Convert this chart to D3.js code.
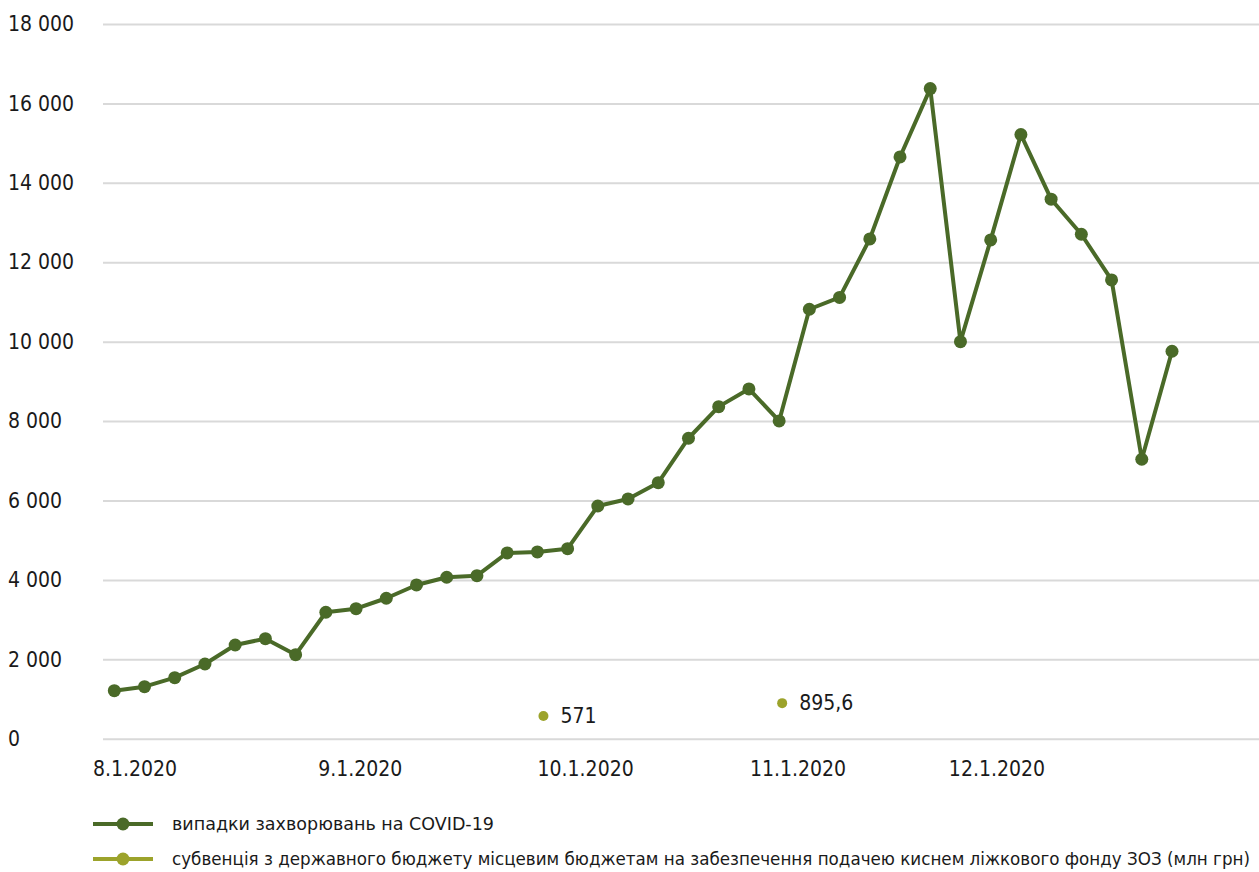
<!DOCTYPE html>
<html>
<head>
<meta charset="utf-8">
<script src="https://cdn.jsdelivr.net/npm/d3@7"></script>
<style>
  body { margin: 0; background: #fff; }
  text { font-family: "Liberation Sans Narrow", "DejaVu Sans Condensed", "Noto Sans", sans-serif; fill: #1a1a1a; }
</style>
</head>
<body>
<svg></svg>
<script>
// weekly COVID-19 cases
var cases = [1209, 1310, 1537, 1882, 2360, 2519, 2116, 3184, 3275, 3537, 3872, 4066,
             4106, 4678, 4703, 4786, 5861, 6038, 6448, 7567, 8363, 8809, 8003, 10816,
             11113, 12587, 14652, 16373, 10000, 12562, 15214, 13587, 12705, 11554, 7038, 9758];

// subvention points (position measured in weeks from the first point)
var subsidyWeek = [14.2, 22.1];
var subsidy = [571, 895.6];

// month labels, placed at their week position
var monthLabels = ['8.1.2020', '9.1.2020', '10.1.2020', '11.1.2020', '12.1.2020'];
var monthWeek = [0.67, 8.12, 15.58, 22.61, 29.19];

var yTicks = [0, 2000, 4000, 6000, 8000, 10000, 12000, 14000, 16000, 18000];

var seriesNames = ['випадки захворювань на COVID-19',
  'субвенція з державного бюджету місцевим бюджетам на забезпечення подачею киснем ліжкового фонду ЗОЗ (млн грн)'];
var colors = ['#4a6a28', '#9ca32b'];

const iWidth = 1259, iHeight = 872;
const plot = {left: 103, right: 1259, top: 24, bottom: 738.7};
const fontSize = 21;
const legendFontSize = 18.4;
const legendTextWidth = [322, 1078];

const uaLocale = d3.formatLocale({decimal: ',', thousands: ' ', grouping: [3], currency: ['', '']});
const fmtTick = uaLocale.format(',d');
const fmtVal = uaLocale.format(',~r');

var canvas = d3.select('svg')
               .attr('width', iWidth)
               .attr('height', iHeight);

const xScale = d3.scaleLinear()
                 .domain([0, cases.length - 1])
                 .range([114.3, 1172]);

const yScale = d3.scaleLinear()
                 .domain([0, 18000])
                 .range([plot.bottom, plot.top]);

// y axis + gridlines
var yAxis = canvas.append('g')
    .attr('transform', `translate(${plot.left},0)`)
    .call(d3.axisLeft(yScale).tickValues(yTicks).tickFormat(fmtTick)
            .tickSize(-(plot.right - plot.left)));
yAxis.select('.domain').remove();
yAxis.selectAll('line').attr('stroke', '#d9d9d9').attr('stroke-width', 2);
yAxis.selectAll('text')
     .attr('x', 8 - plot.left)
     .attr('text-anchor', 'start')
     .attr('font-size', fontSize);

// x axis labels
var xAxis = canvas.append('g')
    .attr('transform', `translate(0,${plot.bottom})`)
    .call(d3.axisBottom(xScale).tickValues(monthWeek)
            .tickFormat((d, i) => monthLabels[i]).tickSize(0));
xAxis.select('.domain').remove();
xAxis.selectAll('text')
     .attr('y', 29.5)
     .attr('dy', '0.35em')
     .attr('font-size', fontSize);

// cases line
var line = d3.line()
             .x((d, i) => xScale(i))
             .y(d => yScale(d));

canvas.append('path')
      .datum(cases)
      .attr('d', line)
      .attr('fill', 'none')
      .attr('stroke', colors[0])
      .attr('stroke-width', 4)
      .attr('stroke-linejoin', 'round');

canvas.append('g').selectAll('circle')
      .data(cases)
      .enter()
        .append('circle')
        .attr('cx', (d, i) => xScale(i))
        .attr('cy', d => yScale(d))
        .attr('r', 6.5)
        .attr('fill', colors[0]);

// subvention points with labels
var sub = canvas.append('g').selectAll('g')
      .data(subsidy)
      .enter()
        .append('g')
        .attr('transform', (d, i) => `translate(${xScale(subsidyWeek[i])},${yScale(d)})`);
sub.append('circle')
   .attr('r', 5)
   .attr('fill', colors[1]);
sub.append('text')
   .attr('x', 17)
   .attr('dy', '0.35em')
   .attr('font-size', fontSize)
   .text(d => fmtVal(d));

// legend
var legend = canvas.append('g').selectAll('g')
      .data(seriesNames)
      .enter()
        .append('g')
        .attr('transform', (d, i) => `translate(93,${824 + i * 35})`);
legend.append('line')
      .attr('x1', 0).attr('x2', 60)
      .attr('stroke', (d, i) => colors[i])
      .attr('stroke-width', 4);
legend.append('circle')
      .attr('cx', 30)
      .attr('r', 6.5)
      .attr('fill', (d, i) => colors[i]);
legend.append('text')
      .attr('x', 79)
      .attr('dy', '0.35em')
      .attr('font-size', legendFontSize)
      .attr('textLength', (d, i) => legendTextWidth[i])
      .attr('lengthAdjust', 'spacingAndGlyphs')
      .text(d => d);
</script>
</body>
</html>
